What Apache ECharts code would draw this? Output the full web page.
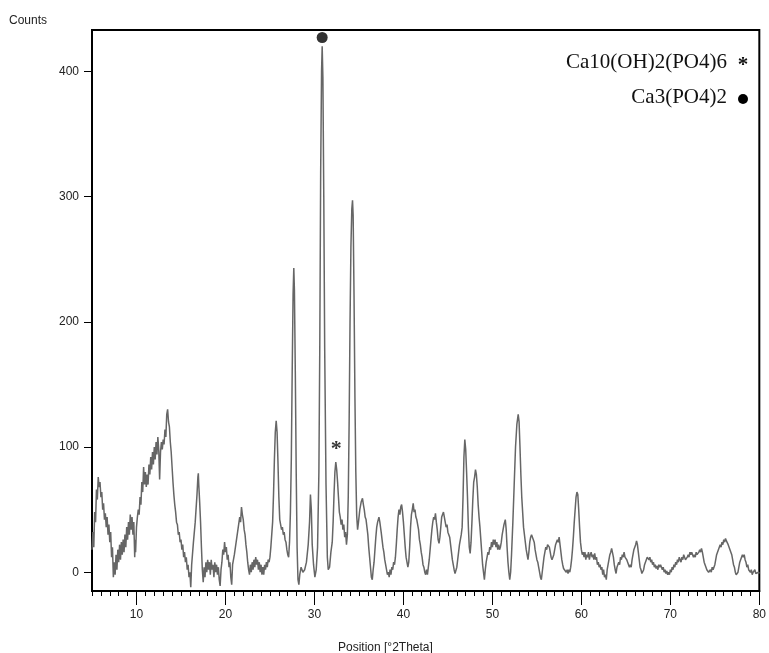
<!DOCTYPE html>
<html>
<head>
<meta charset="utf-8">
<script src="https://cdn.jsdelivr.net/npm/echarts@6/dist/echarts.min.js"></script>
<style>
  html, body { margin: 0; padding: 0; background: #fff; }
  #chart { width: 769px; height: 653px; }
</style>
</head>
<body>
<div id="chart"></div>
<script>
// [2theta, counts]
var scanLow = [
  [5.0,18],[5.1,32],[5.2,20],[5.3,48],[5.4,40],[5.5,66],[5.6,58],[5.7,76],[5.8,68],[5.9,72],
  [6.0,60],[6.1,64],[6.2,50],[6.3,55],[6.4,42],[6.5,47],[6.6,36],[6.7,44],[6.8,30],[6.9,38],
  [7.0,24],[7.1,32],[7.2,12],[7.3,20],[7.4,-4],[7.5,8],[7.6,-2],[7.7,14],[7.8,2],[7.9,18],
  [8.0,8],[8.1,22],[8.2,10],[8.3,24],[8.4,14],[8.5,26],[8.6,16],[8.7,30],[8.8,20],[8.9,36],
  [9.0,26],[9.1,40],[9.2,30],[9.3,46],[9.4,34],[9.5,44],[9.6,30],[9.7,40],[9.8,12],[9.85,26],
  [9.9,16],[10.0,36],[10.1,44],[10.2,50],[10.3,46],[10.4,60],[10.5,54],[10.6,72],[10.7,64],[10.8,84],
  [10.9,70],[11.0,80],[11.1,68],[11.2,78],[11.3,70],[11.4,86],[11.5,78],[11.6,92],[11.7,82],[11.8,96],
  [11.9,86],[12.0,100],[12.1,90],[12.2,104],[12.3,94],[12.4,108],[12.5,98],[12.6,74],[12.7,96],[12.8,104],
  [12.9,98],[13.0,106],[13.1,102],[13.2,114],[13.3,108],[13.4,126],[13.5,130],[13.6,120],[13.7,116],[13.8,104],
  [13.9,96],[14.0,84],[14.1,72],[14.2,62],[14.3,54],[14.4,48],[14.5,40],[14.6,38],[14.7,30],[14.8,32],
  [14.9,24],[15.0,26],[15.1,18],[15.2,22],[15.3,12],[15.4,16],[15.5,8],[15.6,12],[15.7,2],[15.8,6],
  [15.9,-4],[16.0,0],[16.1,-12],[16.2,6],[16.4,24],[16.6,40],[16.8,62],[16.9,76],[16.95,79],[17.0,70],
  [17.1,56],[17.2,40],[17.3,20],[17.4,2],[17.5,-8],[17.6,4],[17.7,-4],[17.8,8],[17.9,0],[18.0,10],
  [18.1,2],[18.2,8],[18.3,-2],[18.4,10],[18.5,2],[18.6,6],[18.7,-4],[18.8,8],[18.9,0],[19.0,6],
  [19.1,-2],[19.2,4],[19.3,-6],[19.4,-11],[19.5,2],[19.6,8],[19.7,18],[19.8,14],[19.9,24],[20.0,16],
  [20.1,20],[20.2,10],[20.3,14],[20.4,4],[20.5,8],[20.6,-4],[20.7,-10],[20.8,6],[21.0,14],[21.2,24],
  [21.4,34],[21.6,44],[21.7,40],[21.8,52],[21.9,46],[22.0,42],[22.1,34],[22.2,30],[22.3,22],[22.4,16],
  [22.5,8],[22.6,2],[22.7,-2],[22.8,6],[22.9,0],[23.0,8],[23.1,2],[23.2,10],[23.3,4],[23.4,12],
  [23.5,6],[23.6,10],[23.7,2],[23.8,8],[23.9,0],[24.0,6],[24.1,-2],[24.2,4],[24.3,-2],[24.4,6],
  [24.5,2],[24.6,8],[24.7,4],[24.8,10],[24.9,8]
];
var scanMid = [
  [25.0,12],[25.1,20],[25.2,30],[25.3,40],[25.4,62],[25.5,90],[25.6,112],[25.7,121],[25.8,112],[25.9,88],
  [26.0,60],[26.1,42],[26.2,38],[26.3,34],[26.4,36],[26.5,30],[26.6,32],[26.7,26],[26.8,24],[26.9,18],
  [27.0,14],[27.1,12],[27.2,24],[27.3,48],[27.4,90],[27.5,160],[27.6,222],[27.68,243],[27.75,225],[27.85,160],
  [27.95,80],[28.05,20],[28.15,-6],[28.25,-10],[28.35,-2],[28.5,4],[28.7,0],[28.9,2],[29.1,8],[29.3,22],
  [29.45,40],[29.55,62],[29.65,50],[29.75,22],[29.9,6],[30.05,-4],[30.2,2],[30.35,20],[30.5,80],[30.6,180],
  [30.7,320],[30.8,400],[30.87,420],[30.95,395],[31.05,300],[31.15,180],[31.3,70],[31.45,12],[31.55,2],[31.7,4],
  [31.85,16],[32.0,24],[32.1,40],[32.2,62],[32.3,80],[32.4,88],[32.5,82],[32.6,72],[32.7,60],[32.8,48],
  [32.9,44],[33.0,38],[33.1,42],[33.2,34],[33.3,38],[33.4,28],[33.5,32],[33.6,22],[33.7,30],[33.8,60],
  [33.9,120],[34.0,200],[34.1,260],[34.2,290],[34.28,297],[34.35,285],[34.45,220],[34.55,140],[34.65,80],[34.75,45],
  [34.85,34],[34.95,40],[35.1,50],[35.25,56],[35.4,59],[35.5,54],[35.6,50],[35.7,44],[35.8,42],[35.9,36],
  [36.0,30],[36.1,20],[36.2,12],[36.3,4],[36.4,-4],[36.5,-6],[36.6,2],[36.7,8],[36.8,18],[36.9,28],
  [37.0,36],[37.1,40],[37.25,44],[37.35,40],[37.5,32],[37.6,26],[37.7,20],[37.8,16],[37.9,10],[38.0,6],
  [38.1,2],[38.2,-2],[38.3,0],[38.4,-4],[38.5,2],[38.6,-2],[38.7,4],[38.8,2],[38.9,8],[39.0,6],
  [39.1,12],[39.2,22],[39.3,34],[39.4,44],[39.5,50],[39.6,46],[39.7,52],[39.8,54],[39.9,48]
];
var scanHigh = [
  [40.0,40],[40.1,30],[40.2,20],[40.3,12],[40.4,8],[40.5,4],[40.6,8],[40.7,20],[40.8,36],[40.9,46],
  [41.0,50],[41.1,55],[41.2,48],[41.3,50],[41.4,44],[41.5,42],[41.6,38],[41.7,34],[41.8,26],[41.9,22],
  [42.0,16],[42.1,12],[42.2,6],[42.3,4],[42.4,0],[42.5,-2],[42.6,2],[42.7,-2],[42.8,4],[42.9,10],
  [43.0,18],[43.1,26],[43.2,34],[43.3,40],[43.4,44],[43.5,42],[43.6,47],[43.7,40],[43.8,34],[43.9,26],
  [44.0,23],[44.1,28],[44.2,36],[44.3,44],[44.4,46],[44.5,48],[44.6,44],[44.7,40],[44.8,36],[44.9,38],
  [45.0,32],[45.1,30],[45.2,28],[45.3,22],[45.4,16],[45.5,10],[45.6,6],[45.7,2],[45.8,-1],[45.9,0],
  [46.0,4],[46.1,10],[46.2,16],[46.3,22],[46.4,26],[46.5,30],[46.6,36],[46.7,60],[46.8,92],[46.9,106],
  [47.0,98],[47.1,80],[47.2,60],[47.3,36],[47.4,20],[47.5,15],[47.6,24],[47.7,40],[47.8,58],[47.9,72],
  [48.0,76],[48.1,82],[48.2,78],[48.3,68],[48.4,54],[48.5,44],[48.6,36],[48.7,26],[48.8,16],[48.9,6],
  [49.0,0],[49.1,-6],[49.2,2],[49.3,8],[49.4,12],[49.5,16],[49.6,14],[49.7,20],[49.8,18],[49.9,24],
  [50.0,20],[50.1,26],[50.2,22],[50.3,26],[50.4,20],[50.5,24],[50.6,18],[50.7,22],[50.8,18],[50.9,20],
  [51.0,24],[51.1,30],[51.2,34],[51.3,38],[51.45,42],[51.55,34],[51.65,20],[51.75,8],[51.85,0],[51.95,-6],
  [52.05,0],[52.15,14],[52.3,40],[52.45,70],[52.6,100],[52.75,118],[52.9,126],[53.0,120],[53.1,100],[53.2,78],
  [53.3,60],[53.4,48],[53.5,36],[53.6,30],[53.7,24],[53.8,18],[53.9,14],[54.0,10],[54.1,16],[54.2,24],
  [54.3,28],[54.4,30],[54.5,31],[54.6,26],[54.7,24],[54.8,18],[54.9,14],[55.0,10],[55.1,8],[55.2,4],
  [55.3,0],[55.4,-4],[55.5,-6],[55.6,0],[55.7,6],[55.8,12],[55.9,16],[56.0,20],[56.1,18],[56.2,22],
  [56.3,23],[56.4,20],[56.5,16],[56.6,12],[56.7,10],[56.8,10],[56.9,14],[57.0,18],[57.1,22],[57.2,24],
  [57.3,26],[57.4,24],[57.5,28],[57.6,22],[57.7,16],[57.8,10],[57.9,6],[58.0,3],[58.1,2],[58.2,4],
  [58.3,0],[58.4,2],[58.5,-1],[58.6,2],[58.7,0],[58.8,4],[58.9,10],[59.0,18],[59.1,28],[59.2,40],
  [59.3,50],[59.4,60],[59.5,64],[59.6,62],[59.7,50],[59.8,36],[59.9,24],[60.0,18],[60.1,14],[60.2,16],
  [60.3,12],[60.4,16],[60.5,10],[60.6,14],[60.7,12],[60.8,16],[60.9,10],[61.0,14],[61.1,16],[61.2,12],
  [61.3,14],[61.4,10],[61.5,15],[61.6,10],[61.7,12],[61.8,6],[61.9,8],[62.0,4],[62.1,6],[62.2,2],
  [62.3,4],[62.4,-2],[62.5,2],[62.6,-4],[62.7,-2],[62.8,-6],[62.9,2],[63.0,6],[63.1,10],[63.2,14],
  [63.3,16],[63.4,19],[63.5,18],[63.6,12],[63.7,6],[63.8,2],[63.9,-1],[64.0,4],[64.1,4],[64.2,8],
  [64.3,6],[64.4,12],[64.5,10],[64.6,14],[64.7,12],[64.8,16],[64.9,12],[65.0,13],[65.1,10],[65.2,8],
  [65.3,6],[65.4,4],[65.5,6],[65.6,4],[65.7,10],[65.8,14],[65.9,18],[66.0,20],[66.1,22],[66.2,25],
  [66.3,22],[66.4,16],[66.5,10],[66.6,4],[66.7,2],[66.8,-1],[66.9,-2],[67.0,2],[67.1,6],[67.2,8],
  [67.3,10],[67.4,12],[67.5,12],[67.6,10],[67.7,12],[67.8,8],[67.9,10],[68.0,6],[68.1,8],[68.2,4],
  [68.3,6],[68.4,3],[68.5,5],[68.6,2],[68.7,6],[68.8,4],[68.9,6],[69.0,4],[69.1,2],[69.2,4],
  [69.3,0],[69.4,2],[69.5,-1],[69.6,1],[69.7,-2],[69.8,0],[69.9,-2],[70.0,2],[70.1,0],[70.2,4],
  [70.3,2],[70.4,6],[70.5,4],[70.6,8],[70.7,6],[70.8,10],[70.9,8],[71.0,12],[71.1,10],[71.2,8],
  [71.3,12],[71.4,10],[71.5,14],[71.6,12],[71.7,10],[71.8,10],[71.9,12],[72.0,14],[72.1,12],[72.2,16],
  [72.3,14],[72.4,16],[72.5,16],[72.6,12],[72.7,14],[72.8,12],[72.9,16],[73.0,14],[73.1,14],[73.2,16],
  [73.3,18],[73.4,16],[73.5,19],[73.6,16],[73.7,12],[73.8,8],[73.9,6],[74.0,4],[74.1,2],[74.2,3],
  [74.3,0],[74.4,-1],[74.5,2],[74.6,0],[74.7,4],[74.8,2],[74.9,2],[75.0,6],[75.1,10],[75.2,14],
  [75.3,16],[75.4,18],[75.5,19],[75.6,22],[75.7,20],[75.8,24],[75.9,22],[76.0,26],[76.1,24],[76.2,27],
  [76.3,25],[76.4,24],[76.5,22],[76.6,20],[76.7,18],[76.8,18],[76.9,14],[77.0,10],[77.1,6],[77.2,4],
  [77.3,0],[77.4,-2],[77.5,-2],[77.6,0],[77.7,4],[77.8,8],[77.9,10],[78.0,12],[78.1,14],[78.2,12],
  [78.3,14],[78.4,10],[78.5,8],[78.6,4],[78.7,6],[78.8,2],[78.9,2],[79.0,0],[79.1,2],[79.2,-2],
  [79.3,0],[79.4,-1],[79.5,2],[79.6,-1],[79.7,0],[79.8,-2],[79.9,0],[80.0,-1]
];

var xTicks = [10, 20, 30, 40, 50, 60, 70, 80];
var yTicks = [0, 100, 200, 300, 400];
var dotMarks = [[30.87, 427]];      // Ca3(PO4)2
var starMarks = [[32.45, 102]];     // Ca10(OH)2(PO4)6

var scan = scanLow.concat(scanMid, scanHigh);

var myChart = echarts.init(document.getElementById('chart'));

var labelFont = { color: '#222', fontSize: 12, fontFamily: 'Liberation Sans, Arial, sans-serif' };

var option = {
  animation: false,
  grid: {
    left: 92, right: 7, top: 30, bottom: 62,
    show: true, borderColor: '#000', borderWidth: 2
  },
  xAxis: [
    {
      type: 'value', min: 5, max: 80,
      axisLine: { onZero: false, lineStyle: { color: '#000', width: 2 } },
      axisTick: { customValues: xTicks, length: 14, lineStyle: { color: '#000', width: 1 } },
      axisLabel: Object.assign({ customValues: xTicks, margin: 18 }, labelFont),
      splitLine: { show: false }
    },
    {
      // minor ticks every degree
      type: 'value', min: 5, max: 80, interval: 1, position: 'bottom',
      axisLine: { show: false, onZero: false },
      axisTick: { length: 5, lineStyle: { color: '#000', width: 1 } },
      axisLabel: { show: false },
      splitLine: { show: false }
    }
  ],
  yAxis: {
    type: 'value', min: -15, max: 433,
    axisLine: { show: true, onZero: false, lineStyle: { color: '#000', width: 2 } },
    axisTick: { show: true, customValues: yTicks, length: 8, lineStyle: { color: '#000', width: 1 } },
    axisLabel: Object.assign({ customValues: yTicks, margin: 13 }, labelFont),
    splitLine: { show: false }
  },
  series: [
    {
      type: 'line',
      data: scan,
      showSymbol: false,
      lineStyle: { color: '#666', width: 1.5 },
      z: 2
    },
    {
      type: 'scatter',
      data: dotMarks,
      symbol: 'circle',
      symbolSize: 11,
      itemStyle: { color: '#000' },
      z: 3
    },
    {
      type: 'scatter',
      data: starMarks,
      symbolSize: 0,
      label: {
        show: true, position: 'inside', formatter: '*',
        fontSize: 22, fontWeight: 'bold', color: '#000', offset: [0, 5],
        fontFamily: 'Liberation Serif, Times New Roman, serif'
      },
      z: 3
    }
  ],
  graphic: [
    { type: 'text', left: 9, top: 15, style: { text: 'Counts', fill: '#222', font: '12px Liberation Sans, Arial, sans-serif' } },
    { type: 'text', left: 338, top: 642, style: { text: 'Position [°2Theta]', fill: '#222', font: '12px Liberation Sans, Arial, sans-serif' } },
    { type: 'text', x: 727, y: 62, style: { text: 'Ca10(OH)2(PO4)6', fill: '#111', font: '21px Liberation Serif, Times New Roman, serif', align: 'right', verticalAlign: 'middle' } },
    { type: 'text', x: 743, y: 66, style: { text: '*', fill: '#111', font: 'bold 21px Liberation Serif, Times New Roman, serif', align: 'center', verticalAlign: 'middle' } },
    { type: 'text', x: 727, y: 97, style: { text: 'Ca3(PO4)2', fill: '#111', font: '21px Liberation Serif, Times New Roman, serif', align: 'right', verticalAlign: 'middle' } },
    { type: 'circle', shape: { cx: 743, cy: 99, r: 5 }, style: { fill: '#000' } }
  ]
};

myChart.setOption(option);
</script>
</body>
</html>
